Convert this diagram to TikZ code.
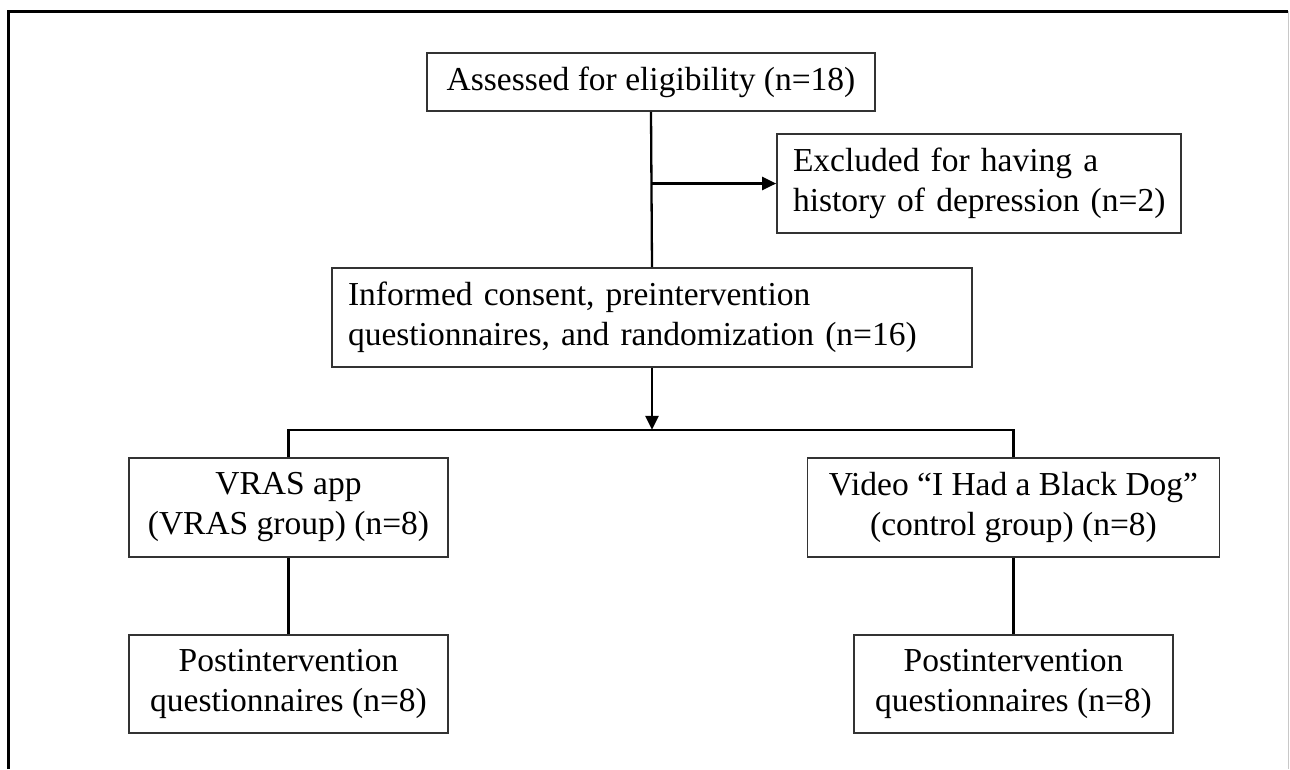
\documentclass[tikz,border=0pt]{standalone}
\usepackage{fontspec}
\setmainfont{Liberation Serif}
\usetikzlibrary{arrows.meta,calc}
\definecolor{boxline}{HTML}{333333}
\definecolor{framegray}{HTML}{C8C8C8}
\begin{document}
\begin{tikzpicture}[x=1pt,y=-1pt,
  every node/.style={font=\fontsize{33.5}{40}\selectfont},
  flowbox/.style={draw=boxline,line width=1.7pt,inner sep=0pt,minimum height=99pt,align=center},
  leftbox/.style={flowbox,inner xsep=16pt,align=left},
  conn/.style={draw=black,line width=2.3pt},
  arr/.style={conn,-{Triangle[length=14pt,width=13pt]}}]
\useasboundingbox[fill=white] (0,0) rectangle (1290,769);
% outer frame
\draw[framegray,line width=1.2pt] (1288.5,11) -- (1288.5,769);
\draw[black,line width=3pt] (8,769) -- (8,11.5) -- (1288,11.5);
% nodes
\node[flowbox,minimum width=448pt,minimum height=58pt] (b1) at (651,82) {Assessed for eligibility (n=18)};
\node[leftbox,text width=372pt] (b2) at (979,183.5) {\mbox{Excluded for having a}\\\mbox{history of depression (n=2)}};
\node[leftbox,text width=608pt] (b3) at (652,317.5) {\mbox{Informed consent, preintervention}\\\mbox{questionnaires, and randomization (n=16)}};
\node[flowbox,minimum width=319pt] (b4) at (288.5,507.5) {VRAS app\\(VRAS group) (n=8)};
\node[flowbox,minimum width=412pt] (b5) at (1013.5,507.5) {Video “I Had a Black Dog”\\(control group) (n=8)};
\node[flowbox,minimum width=319pt,minimum height=98pt] (b6) at (288.5,684) {Postintervention\\questionnaires (n=8)};
\node[flowbox,minimum width=319pt,minimum height=98pt] (b7) at (1013.5,684) {Postintervention\\questionnaires (n=8)};
% connectors
\coordinate (j1) at (b1.south |- b2.west);
\coordinate (j2) at ($(b3.south)+(0,62)$);
\draw[conn] (b1.south) -- (b3.north);
\draw[arr] (j1) -- (b2.west);
\draw[arr] (b3.south) -- (j2);
\draw[conn] (b4.north) -- (b4.north |- j2) -- (b5.north |- j2) -- (b5.north);
\draw[conn] (b4.south) -- (b6.north);
\draw[conn] (b5.south) -- (b7.north);
\end{tikzpicture}
\end{document}
